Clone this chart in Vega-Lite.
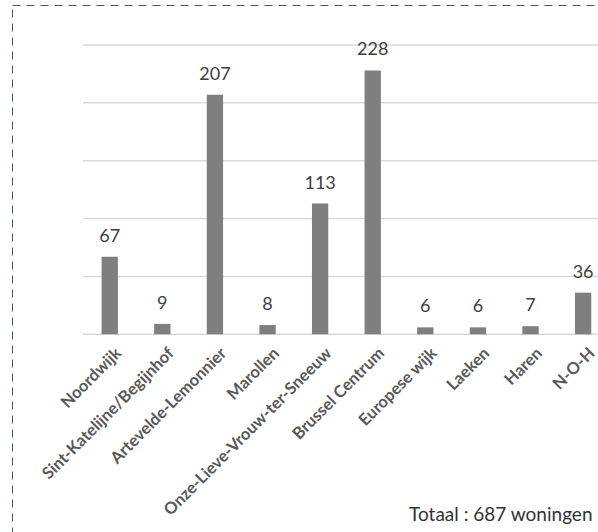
{
  "$schema": "https://vega.github.io/schema/vega-lite/v6.json",
  "autosize": {"type": "none"},
  "padding": {"left": 12, "top": 5, "right": -3, "bottom": -3},
  "width": 589,
  "height": 530,
  "background": "white",
  "config": {
    "view": {"stroke": "#44546a", "strokeDash": [8, 6], "strokeWidth": 1},
    "font": "Lato"
  },
  "datasets": {
    "woningen": [
      {"wijk": "Noordwijk", "aantal": 67},
      {"wijk": "Sint-Katelijne/Begijnhof", "aantal": 9},
      {"wijk": "Artevelde-Lemonnier", "aantal": 207},
      {"wijk": "Marollen", "aantal": 8},
      {"wijk": "Onze-Lieve-Vrouw-ter-Sneeuw", "aantal": 113},
      {"wijk": "Brussel Centrum", "aantal": 228},
      {"wijk": "Europese wijk", "aantal": 6},
      {"wijk": "Laeken", "aantal": 6},
      {"wijk": "Haren", "aantal": 7},
      {"wijk": "N-O-H", "aantal": 36}
    ],
    "grid": [{"g": 0}, {"g": 50}, {"g": 100}, {"g": 150}, {"g": 200}, {"g": 250}]
  },
  "layer": [
    {
      "data": {"name": "grid"},
      "mark": {"type": "rule", "color": "#d9d9d9", "strokeWidth": 1.5},
      "encoding": {
        "y": {
          "field": "g",
          "type": "quantitative",
          "scale": {"domain": [-173.44, 284.57], "nice": false, "zero": false},
          "axis": null
        },
        "x": {
          "datum": "Noordwijk",
          "type": "nominal",
          "bandPosition": -1.137,
          "scale": {
            "domain": ["Noordwijk", "Sint-Katelijne/Begijnhof", "Artevelde-Lemonnier", "Marollen", "Onze-Lieve-Vrouw-ter-Sneeuw", "Brussel Centrum", "Europese wijk", "Laeken", "Haren", "N-O-H"],
            "paddingInner": 0.69,
            "paddingOuter": 0.944,
            "align": 0.902
          },
          "axis": {
            "offset": -200.7,
            "domain": false,
            "ticks": false,
            "grid": false,
            "labelAngle": -45,
            "labelAlign": "right",
            "labelBaseline": "middle",
            "labelPadding": 16,
            "labelOffset": 9,
            "labelLimit": 500,
            "labelFont": "Lato",
            "labelFontWeight": "bold",
            "labelFontSize": 16.5,
            "labelColor": "#595959",
            "title": "Totaal : 687 woningen",
            "titleFont": "Lato",
            "titleFontSize": 19,
            "titleFontWeight": "normal",
            "titleColor": "#333333",
            "titleAlign": "right",
            "titleBaseline": "alphabetic",
            "titleX": 580,
            "titleY": 185.7,
            "titleAnchor": null
          }
        },
        "x2": {"datum": "N-O-H", "bandPosition": 1.6}
      }
    },
    {
      "data": {"name": "woningen"},
      "mark": {"type": "bar", "color": "#7f7f7f"},
      "encoding": {
        "x": {"field": "wijk", "type": "nominal", "sort": null, "title": "Totaal : 687 woningen"},
        "y": {"field": "aantal", "type": "quantitative", "axis": null},
        "y2": {"datum": 0}
      }
    },
    {
      "data": {"name": "woningen"},
      "mark": {"type": "text", "baseline": "alphabetic", "dy": -15, "fontSize": 18, "color": "#404040", "font": "Lato"},
      "encoding": {
        "x": {"field": "wijk", "type": "nominal", "sort": null, "title": "Totaal : 687 woningen"},
        "y": {"field": "aantal", "type": "quantitative", "axis": null},
        "text": {"field": "aantal", "type": "quantitative"}
      }
    }
  ]
}
